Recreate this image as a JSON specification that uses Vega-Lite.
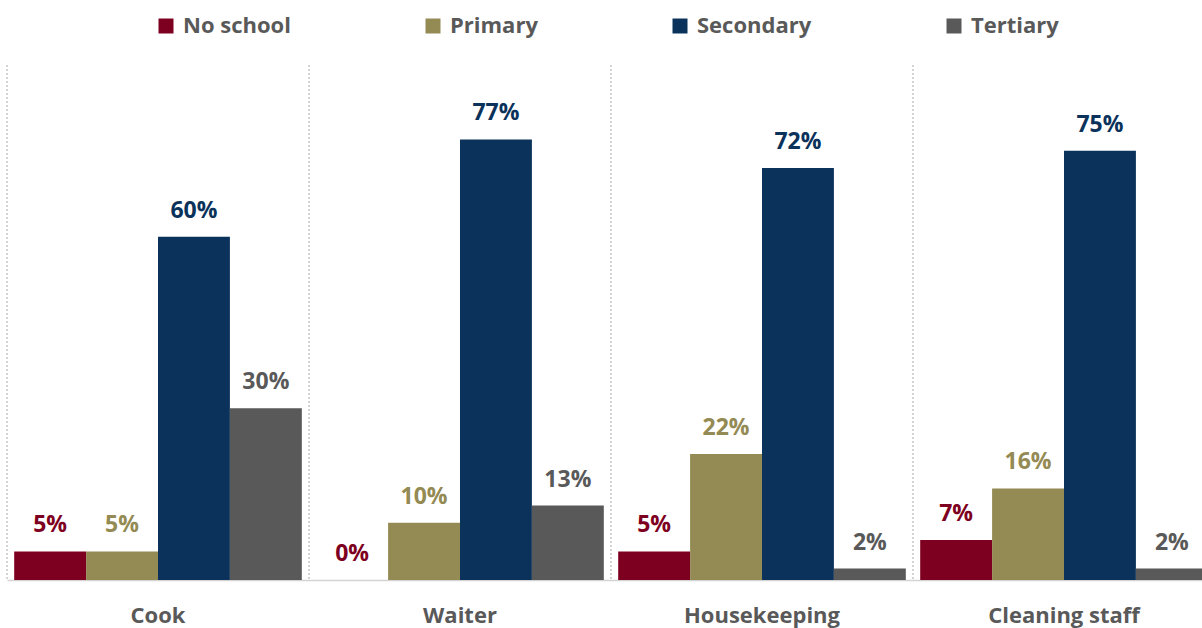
{
  "$schema": "https://vega.github.io/schema/vega-lite/v6.json",
  "width": 1202,
  "height": 515,
  "autosize": {"type": "none"},
  "padding": {"top": 65, "left": 0, "right": 0, "bottom": 48},
  "background": "white",
  "config": {"view": {"stroke": null}, "font": "Open Sans"},
  "data": {
    "values": [
      {"job": "Cook", "edu": "No school", "share": 0.05},
      {"job": "Cook", "edu": "Primary", "share": 0.05},
      {"job": "Cook", "edu": "Secondary", "share": 0.60},
      {"job": "Cook", "edu": "Tertiary", "share": 0.30},
      {"job": "Waiter", "edu": "No school", "share": 0.00},
      {"job": "Waiter", "edu": "Primary", "share": 0.10},
      {"job": "Waiter", "edu": "Secondary", "share": 0.77},
      {"job": "Waiter", "edu": "Tertiary", "share": 0.13},
      {"job": "Housekeeping", "edu": "No school", "share": 0.05},
      {"job": "Housekeeping", "edu": "Primary", "share": 0.22},
      {"job": "Housekeeping", "edu": "Secondary", "share": 0.72},
      {"job": "Housekeeping", "edu": "Tertiary", "share": 0.02},
      {"job": "Cleaning staff", "edu": "No school", "share": 0.07},
      {"job": "Cleaning staff", "edu": "Primary", "share": 0.16},
      {"job": "Cleaning staff", "edu": "Secondary", "share": 0.75},
      {"job": "Cleaning staff", "edu": "Tertiary", "share": 0.02}
    ]
  },
  "layer": [
    {
      "mark": {"type": "rule", "strokeDash": [2, 2], "color": "#d4d4d4", "strokeWidth": 1.5},
      "encoding": {
        "x": {
          "field": "job", "type": "nominal", "bandPosition": 0,
          "sort": ["Cook", "Waiter", "Housekeeping", "Cleaning staff"],
          "scale": {"type": "band", "paddingInner": 0, "paddingOuter": 0, "range": [7, 1215]},
          "axis": {
            "title": null, "labelAngle": 0, "ticks": false, "domainColor": "#d4d4d4", "domainWidth": 1.5,
            "labelFontSize": 22, "labelFontWeight": "bold", "labelColor": "#595959", "labelPadding": 25,
            "grid": false
          }
        }
      }
    },
    {
      "mark": {"type": "bar"},
      "encoding": {
        "x": {
          "field": "job", "type": "nominal",
          "sort": ["Cook", "Waiter", "Housekeeping", "Cleaning staff"],
          "scale": {"type": "band", "paddingInner": 0, "paddingOuter": 0, "range": [7, 1215]},
          "axis": {
            "title": null, "labelAngle": 0, "ticks": false, "domainColor": "#d4d4d4", "domainWidth": 1.5,
            "labelFontSize": 22, "labelFontWeight": "bold", "labelColor": "#595959", "labelPadding": 25,
            "grid": false
          }
        },
        "xOffset": {
          "field": "edu", "type": "nominal",
          "sort": ["No school", "Primary", "Secondary", "Tertiary"],
          "scale": {"paddingInner": 0, "paddingOuter": 0.1}
        },
        "y": {"field": "share", "type": "quantitative", "scale": {"domain": [0, 0.9]}, "axis": null},
        "color": {
          "field": "edu", "type": "nominal",
          "scale": {"domain": ["No school", "Primary", "Secondary", "Tertiary"], "range": ["#7e0021", "#948a54", "#0a325a", "#595959"]},
          "legend": {
            "orient": "none", "legendX": 155, "legendY": -50, "direction": "horizontal", "columns": 4,
            "columnPadding": 131, "labelOffset": 6, "symbolType": "square", "symbolSize": 225, "symbolStrokeWidth": 0,
            "title": null, "labelFontSize": 22, "labelFontWeight": "bold", "labelColor": "#595959", "labelLimit": 0
          }
        }
      }
    },
    {
      "mark": {"type": "text", "baseline": "alphabetic", "dy": -19, "fontSize": 23, "fontWeight": "bold"},
      "encoding": {
        "x": {
          "field": "job", "type": "nominal",
          "sort": ["Cook", "Waiter", "Housekeeping", "Cleaning staff"],
          "scale": {"type": "band", "paddingInner": 0, "paddingOuter": 0, "range": [7, 1215]}
        },
        "xOffset": {
          "field": "edu", "type": "nominal",
          "sort": ["No school", "Primary", "Secondary", "Tertiary"],
          "scale": {"paddingInner": 0, "paddingOuter": 0.1}
        },
        "y": {"field": "share", "type": "quantitative"},
        "text": {"field": "share", "type": "quantitative", "format": ".0%"},
        "color": {"field": "edu", "type": "nominal", "legend": null}
      }
    }
  ]
}
